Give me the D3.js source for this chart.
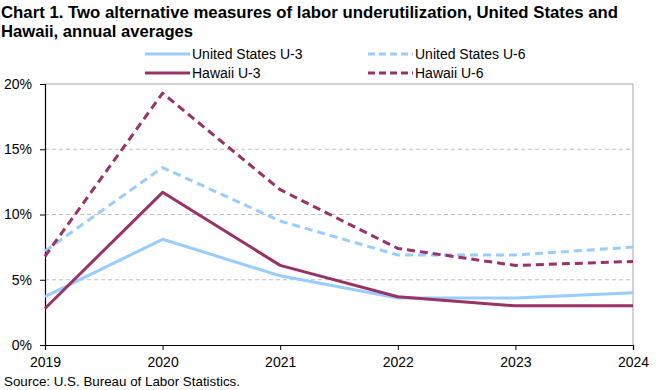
<!DOCTYPE html>
<html>
<head>
<meta charset="utf-8">
<script src="https://cdn.jsdelivr.net/npm/d3@7"></script>
<style>
  body { margin: 0; background: #fff; }
  svg { display: block; font-family: "Liberation Sans", Arial, sans-serif; }
</style>
</head>
<body>
<svg id="chart" width="660" height="390"></svg>
<script>
// data
const years = [2019, 2020, 2021, 2022, 2023, 2024];
const usU3 = [3.7, 8.1, 5.3, 3.6, 3.6, 4.0];
const usU6 = [7.2, 13.6, 9.5, 6.9, 6.9, 7.5];
const hiU3 = [2.8, 11.7, 6.1, 3.7, 3.0, 3.0];
const hiU6 = [6.8, 19.3, 11.9, 7.4, 6.1, 6.4];
const yTicks = [0, 5, 10, 15, 20];

const series = [
    { name: 'United States U-3', values: usU3, color: '#99ccff', dash: null },
    { name: 'Hawaii U-3', values: hiU3, color: '#993366', dash: null },
    { name: 'United States U-6', values: usU6, color: '#99ccff', dash: '8,5' },
    { name: 'Hawaii U-6', values: hiU6, color: '#993366', dash: '8,5' }
];

const svg = d3.select('#chart');
const plot = { left: 45, right: 633, top: 84, bottom: 345 };

const x = d3.scaleLinear().domain([2019, 2024]).range([plot.left, plot.right]);
const y = d3.scaleLinear().domain([0, 20]).range([plot.bottom, plot.top]);

// title
const title = svg.append('g').attr('font-weight', 'bold').attr('font-size', 17).attr('fill', '#000');
title.append('text').attr('x', 1).attr('y', 18)
    .attr('textLength', 617).attr('lengthAdjust', 'spacingAndGlyphs')
    .text('Chart 1. Two alternative measures of labor underutilization, United States and');
title.append('text').attr('x', 1).attr('y', 37)
    .attr('textLength', 192).attr('lengthAdjust', 'spacingAndGlyphs')
    .text('Hawaii, annual averages');

// grid lines
svg.append('g')
    .selectAll('line')
    .data(yTicks.filter(d => d > 0 && d < 20))
    .enter()
    .append('line')
    .attr('x1', plot.left).attr('x2', plot.right)
    .attr('y1', d => y(d)).attr('y2', d => y(d))
    .attr('stroke', '#bfbfbf')
    .attr('stroke-dasharray', '4,3');

// top + right border
svg.append('path')
    .attr('d', `M${plot.left},${y(20)}H${plot.right}V${plot.bottom}`)
    .attr('fill', 'none')
    .attr('stroke', '#a6a6a6')
    .attr('stroke-width', 1);

// axes
const yAxis = svg.append('g')
    .attr('transform', `translate(${plot.left},0)`)
    .call(d3.axisLeft(y).tickValues(yTicks).tickSize(5).tickPadding(8).tickFormat(d => d + '%'));
const xAxis = svg.append('g')
    .attr('transform', `translate(0,${plot.bottom})`)
    .call(d3.axisBottom(x).tickValues(years).tickSize(5).tickPadding(7).tickFormat(d3.format('d')));

[yAxis, xAxis].forEach(a => {
    a.select('.domain').attr('stroke', '#000').attr('stroke-width', 1.2);
    a.selectAll('.tick line').attr('stroke', '#000');
    a.selectAll('text').attr('font-size', 14).attr('fill', '#000')
        .attr('font-family', '"Liberation Sans", Arial, sans-serif');
});

// lines
const line = d3.line()
    .x((d, i) => x(years[i]))
    .y(d => y(d));

svg.append('g')
    .selectAll('path')
    .data(series)
    .enter()
    .append('path')
    .attr('d', d => line(d.values))
    .attr('fill', 'none')
    .attr('stroke', d => d.color)
    .attr('stroke-width', 3)
    .attr('stroke-linejoin', 'round')
    .attr('stroke-dasharray', d => d.dash);

// legend
const legendPos = [
    { s: series[0], x: 145, y: 54 },
    { s: series[2], x: 368, y: 54 },
    { s: series[1], x: 145, y: 73 },
    { s: series[3], x: 368, y: 73 }
];
const legend = svg.append('g')
    .selectAll('g')
    .data(legendPos)
    .enter()
    .append('g')
    .attr('transform', d => `translate(${d.x},${d.y})`);

legend.append('line')
    .attr('x1', 0).attr('x2', 45)
    .attr('stroke', d => d.s.color)
    .attr('stroke-width', 3)
    .attr('stroke-dasharray', d => d.s.dash ? '7,4' : null);

legend.append('text')
    .attr('x', 47).attr('y', 5)
    .attr('font-size', 14)
    .text(d => d.s.name);

// source
svg.append('text')
    .attr('x', 4).attr('y', 386)
    .attr('font-size', 13)
    .attr('textLength', 236).attr('lengthAdjust', 'spacingAndGlyphs')
    .text('Source: U.S. Bureau of Labor Statistics.');
</script>
</body>
</html>
